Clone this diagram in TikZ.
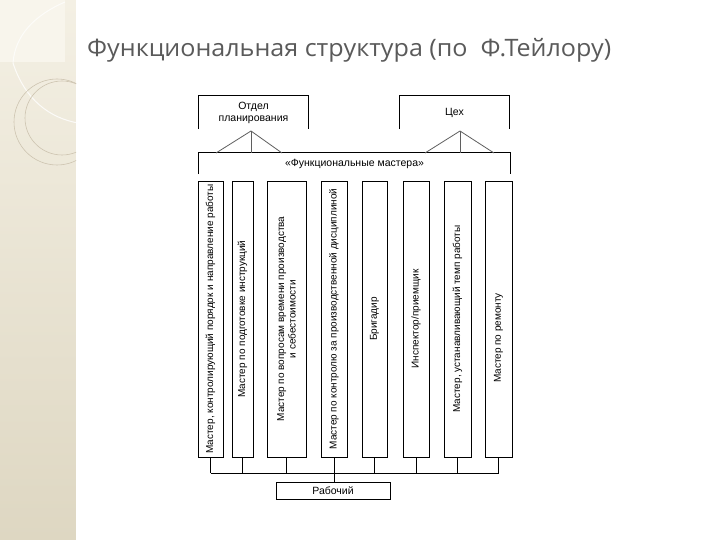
\documentclass[tikz,border=0pt]{standalone}
\usepackage{fontspec}
\setmainfont{Liberation Sans}
\newfontfamily\titlefont[FakeStretch=1.045]{Open Sans}
\definecolor{stripTop}{RGB}{244,240,228}
\definecolor{stripBot}{RGB}{222,215,194}
\definecolor{stripLight}{RGB}{248,245,236}
\definecolor{decoLine}{RGB}{205,196,176}
\definecolor{titleGray}{RGB}{90,90,90}
\definecolor{triGray}{RGB}{95,95,95}
\begin{document}
\begin{tikzpicture}[x=1pt,y=-1pt,
  box/.style={draw=black,line width=0.9pt,inner sep=0pt},
  colbox/.style={box,minimum height=276pt,anchor=center},
  lbl/.style={inner sep=0pt,font=\fontsize{10.5}{12}\selectfont,align=center},
  vlbl/.style={inner sep=0pt,font=\fontsize{10}{11.5}\selectfont,align=center,rotate=90},
  wire/.style={line width=0.9pt,black},
  tri/.style={line width=0.8pt,triGray},
]
\useasboundingbox (0,0) rectangle (720,540);
\fill[white] (0,0) rectangle (720,540);
% left decorative strip
\shade[top color=stripTop,bottom color=stripBot] (0,0) rectangle (76,540);
\fill[stripLight] (0,0) rectangle (65,62);
\draw[white,line width=1.2pt] (77,0) -- (77,540);
\begin{scope}
\clip (0,0) rectangle (76,540);
\draw[white,line width=1pt,opacity=0.8] (13,63) .. controls (25,100) and (50,118) .. (78,123);
\draw[white,line width=1pt,opacity=0.7] (65,2) .. controls (35,15) and (15,35) .. (13,63);
\draw[decoLine,line width=0.6pt] (57,122) circle (43);
\draw[decoLine,line width=0.6pt] (62,118) circle (37);
\end{scope}
% title
\node[anchor=base west,inner sep=0pt,text=titleGray,font=\titlefont\fontsize{24}{28}\selectfont] (title) at (87,57) {Функциональная структура (по\ \ Ф.Тейлору)};
% top boxes (open at the bottom)
\node[lbl,minimum width=109pt,minimum height=33pt] (otdel) at (253.5,112.5) {Отдел\\планирования};
\draw[wire] (otdel.south west) -- (otdel.north west) -- (otdel.north east) -- (otdel.south east);
\node[lbl,minimum width=109pt,minimum height=33pt] (tseh) at (454.5,112.5) {Цех};
\draw[wire] (tseh.south west) -- (tseh.north west) -- (tseh.north east) -- (tseh.south east);
% functional masters box (open at the bottom)
\node[lbl,minimum width=311pt,minimum height=21pt] (mastera) at (354.5,163.5) {«Функциональные мастера»};
\draw[wire] (mastera.south west) -- (mastera.north west) -- (mastera.north east) -- (mastera.south east);
% triangles
\coordinate (ap1) at (251,131);
\coordinate (ap2) at (460,131);
\draw[tri] (216,153) -- (ap1) -- (282,153);
\draw[tri] (ap1) -- (ap1 |- mastera.north);
\draw[tri] (425,153) -- (ap2) -- (494,153);
\draw[tri] (ap2) -- (ap2 |- mastera.north);
% columns
\node[colbox,minimum width=25pt] (c1) at (210.5,319) {};
\node[colbox,minimum width=21pt] (c2) at (242.5,319) {};
\node[colbox,minimum width=39pt] (c3) at (286.5,319) {};
\node[colbox,minimum width=26pt] (c4) at (334,319) {};
\node[colbox,minimum width=25pt] (c5) at (374.5,319) {};
\node[colbox,minimum width=26pt] (c6) at (416,319) {};
\node[colbox,minimum width=27pt] (c7) at (457.5,319) {};
\node[colbox,minimum width=27pt] (c8) at (498.5,319) {};
\node[vlbl] (t1) at (c1) {Мастер, контролирующий порядок и направление работы};
\node[vlbl] (t2) at (c2) {Мастер по подготовке инструкций};
\node[vlbl] (t3) at (c3) {Мастер по вопросам времени производства\\и себестоимости};
\node[vlbl] (t4) at (c4) {Мастер по контролю за производственной дисциплиной};
\node[vlbl] (t5) at (c5) {Бригадир};
\node[vlbl] (t6) at (c6) {Инспектор/приемщик};
\node[vlbl] (t7) at (c7) {Мастер, устанавливающий темп работы};
\node[vlbl] (t8) at ([yshift=-19pt]c8.center) {Мастер по ремонту};
% worker
\node[box,lbl,minimum width=114pt,minimum height=17pt] (rab) at (333,490.5) {Рабочий};
% bus
\coordinate (bus) at (0,473);
\draw[wire] (c1.south |- bus) -- (c8.south |- bus);
\foreach \c in {c1,c2,c3,c5,c6,c7,c8} {
  \draw[wire] (\c.south) -- (\c.south |- bus);
}
\draw[wire] (c4.south) -- (c4.south |- rab.north);
\end{tikzpicture}
\end{document}
